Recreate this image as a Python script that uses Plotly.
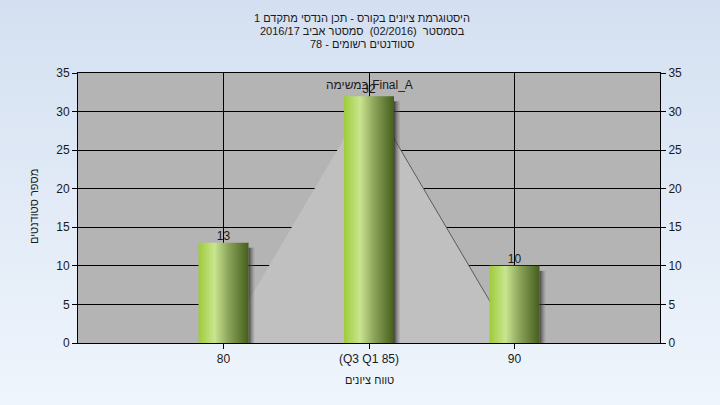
import base64
import plotly.graph_objects as go

# ---------------- data ----------------
categories = ["80", "(Q3 Q1 85)", "90"]
counts = [13, 32, 10]
curve_values = [0, 32, 0]
marker_label = "במשימה Final_A"
title_lines = [
    "היסטוגרמת ציונים בקורס - תכן הנדסי מתקדם 1",
    "בסמסטר  (02/2016)  סמסטר אביב 2016/17",
    "סטודנטים רשומים - 78",
]
x_title = "טווח ציונים"
y_title = "מספר סטודנטים"
y_ticks = [0, 5, 10, 15, 20, 25, 30, 35]

# ---------------- layout constants ----------------
W, H = 720, 405
ML, MR, MT, MB = 78, 60, 73, 62
PW, PH = W - ML - MR, H - MT - MB
X_RANGE = [-1, 3]
Y_RANGE = [0, 35]
BAR_W = 50 / (PW / (X_RANGE[1] - X_RANGE[0]))
SH_DX = 6 / (PW / (X_RANGE[1] - X_RANGE[0]))
SH_DY = 5 / (PH / (Y_RANGE[1] - Y_RANGE[0]))
FONT = "Liberation Sans, Arial, sans-serif"
TXT = "#1a1a1a"
TSIZE = 11

xs = list(range(len(categories)))

fig = go.Figure()

# normal-like area behind bars
fig.add_trace(go.Scatter(
    x=xs, y=curve_values, mode="lines", fill="tozeroy",
    fillcolor="#c0c0c0", line=dict(width=0, color="rgba(0,0,0,0)"),
    hoverinfo="skip", showlegend=False))
fig.add_trace(go.Scatter(
    x=xs[1:], y=curve_values[1:], mode="lines",
    line=dict(width=1, color="#5a5a5a"),
    hoverinfo="skip", showlegend=False))

# bars: shadow strip + gradient body
for xi, v in zip(xs, counts):
    x0, x1 = xi - BAR_W / 2, xi + BAR_W / 2
    fig.add_trace(go.Scatter(
        x=[x1, x1 + SH_DX, x1 + SH_DX, x1, x1],
        y=[0, 0, v - SH_DY, v - SH_DY, 0],
        mode="lines", fill="toself", line=dict(width=0),
        fillgradient=dict(type="horizontal",
                          colorscale=[[0, "rgba(40,40,40,0.85)"],
                                      [1, "rgba(120,120,120,0.15)"]]),
        hoverinfo="skip", showlegend=False))
    fig.add_trace(go.Scatter(
        x=[x0, x1, x1, x0, x0], y=[0, 0, v, v, 0],
        mode="lines", fill="toself", line=dict(width=0),
        fillgradient=dict(type="horizontal",
                          colorscale=[[0, "#9fcb3a"], [0.32, "#c9e58f"],
                                      [0.6, "#8ca45a"], [1, "#455e1c"]]),
        hoverinfo="skip", showlegend=False))

# value labels
fig.add_trace(go.Scatter(
    x=xs, y=counts, mode="text", text=[str(c) for c in counts],
    textposition="top center",
    textfont=dict(family=FONT, size=12, color=TXT),
    cliponaxis=False, hoverinfo="skip", showlegend=False))

# right axis dummy trace
fig.add_trace(go.Scatter(x=[xs[0]], y=[0], yaxis="y2", mode="markers",
                         marker=dict(opacity=0), hoverinfo="skip",
                         showlegend=False))

# background gradient image
svg = ('<svg xmlns="http://www.w3.org/2000/svg" width="720" height="405" '
       'preserveAspectRatio="none"><defs><linearGradient id="g" x1="0" y1="0" '
       'x2="0" y2="1"><stop offset="0" stop-color="#d4e0f1"/>'
       '<stop offset="1" stop-color="#eff5fc"/></linearGradient></defs>'
       '<rect width="720" height="405" fill="url(#g)"/></svg>')
src = "data:image/svg+xml;base64," + base64.b64encode(svg.encode()).decode()


def px_x(px):
    return (px - ML) / PW


def px_y(py):
    return (MT + PH - py) / PH


annotations = []
for i, line in enumerate(title_lines):
    annotations.append(dict(
        text=line, xref="paper", yref="paper",
        x=px_x(362), y=px_y(18 + 13 * i),
        xanchor="center", yanchor="middle", showarrow=False,
        font=dict(family=FONT, size=TSIZE, color=TXT)))
annotations.append(dict(
    text=x_title, xref="paper", yref="paper",
    x=px_x(369), y=px_y(380),
    xanchor="center", yanchor="middle", showarrow=False,
    font=dict(family=FONT, size=TSIZE, color=TXT)))
annotations.append(dict(
    text=y_title, xref="paper", yref="paper", textangle=-90,
    x=px_x(34), y=px_y(207),
    xanchor="center", yanchor="middle", showarrow=False,
    font=dict(family=FONT, size=TSIZE, color=TXT)))
annotations.append(dict(
    text=marker_label, x=xs[1], y=counts[1], xref="x", yref="y",
    yshift=11, xanchor="center", yanchor="middle", showarrow=False,
    font=dict(family=FONT, size=12, color=TXT)))

fig.update_layout(
    width=W, height=H,
    margin=dict(l=ML, r=MR, t=MT, b=MB, pad=0),
    paper_bgcolor="#e2ebf6",
    plot_bgcolor="#b4b4b4",
    showlegend=False,
    font=dict(family=FONT, size=12, color=TXT),
    images=[dict(source=src, xref="paper", yref="paper",
                 x=-ML / PW, y=1 + MT / PH, sizex=W / PW, sizey=H / PH,
                 xanchor="left", yanchor="top", sizing="stretch",
                 layer="below")],
    shapes=[dict(type="rect", xref="paper", yref="paper", x0=0, x1=1,
                 y0=0, y1=1, fillcolor="#b4b4b4", line=dict(width=0),
                 layer="below")],
    xaxis=dict(range=X_RANGE, tickvals=xs, ticktext=categories,
               showgrid=True, gridcolor="#000000", gridwidth=1,
               showline=True, linecolor="#000000", linewidth=1, mirror=True,
               ticks="outside", ticklen=5, tickcolor="#000000",
               zeroline=False, fixedrange=True),
    yaxis=dict(range=Y_RANGE, tickvals=y_ticks,
               showgrid=True, gridcolor="#000000", gridwidth=1,
               showline=True, linecolor="#000000", linewidth=1,
               ticks="outside", ticklen=5, tickcolor="#000000",
               zeroline=False, fixedrange=True),
    yaxis2=dict(range=Y_RANGE, tickvals=y_ticks, overlaying="y", side="right",
                showgrid=False, showline=True, linecolor="#000000",
                linewidth=1, ticks="outside", ticklen=5, tickcolor="#000000",
                zeroline=False, fixedrange=True),
    annotations=annotations,
)

fig.write_html("out.html", config={"displayModeBar": False},
               post_script="document.body.style.margin='0';"
                           "document.body.style.overflow='hidden';")
